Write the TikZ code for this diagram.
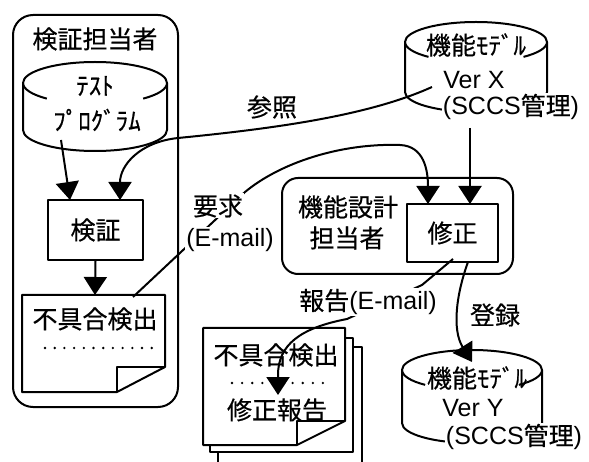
\documentclass[tikz,border=0pt]{standalone}
\usepackage{fontspec}
\setmainfont{Liberation Sans}
\newfontfamily\jp[FakeBold=0.5]{Noto Sans CJK JP}
\usetikzlibrary{arrows.meta}
\newcommand{\mycyl}[6]{%
  \draw[ln] ({#1-#4},{-#2}) arc[start angle=180,end angle=0,x radius=#4,y radius=#5]
    -- ({#1+#4},{-#3}) arc[start angle=0,end angle=-180,x radius=#4,y radius=#5] -- cycle;
  \draw[ln] ({#1-#4},{-#2}) arc[start angle=180,end angle=#6,x radius=#4,y radius=#5];
  \draw[ln] ({#1+#4},{-#2}) arc[start angle=0,end angle={180-#6},x radius=#4,y radius=#5];
}
\begin{document}
\begin{tikzpicture}[x=1pt,y=1pt,
  ln/.style={line width=2pt, line join=round},
  arr/.style={ln, -{Triangle[length=18pt,width=23pt]}},
  lbl/.style={font=\fontsize{25}{30}\selectfont, inner sep=1pt},
  wlbl/.style={lbl, fill=white},
  box/.style={ln, draw, inner sep=0pt},
  every node/.style={lbl}]
\useasboundingbox (0,0) rectangle (589,-462);

% ---------- left group ----------
\node[box, rounded corners=20pt, minimum width=165pt, minimum height=392pt] (kgroup) at (95.5,-211) {};
\node (ktitle) at (95,-39) {\jp 検証担当者};
\mycyl{95}{83}{130}{72}{21}{228}
\node (tp1) at (95,-86) {\jp ﾃｽﾄ};
\node (tp2) at (97,-120) {\jp ﾌﾟﾛｸﾞﾗﾑ};
\coordinate (cylL) at (61,-140);

\node[box, minimum width=95pt, minimum height=60pt] (kensho) at (95.5,-230) {\jp 検証};

% left document
\draw[ln, fill=white] (22,-295) -- (165,-295) -- (165,-367) -- (117,-392) -- (22,-392) -- cycle;
\draw[ln] (117,-392) -- (117,-367) -- (165,-367);
\node (doc1t) at (95,-319) {\jp 不具合検出};
\foreach \i in {0,...,11} \fill (45+\i*9.7,-348) circle (1.3pt);
\coordinate (doc1top) at (95,-295);
\coordinate (req0) at (133,-297);

% ---------- Ver X ----------
\mycyl{476}{42}{92}{71}{20}{228}
\node (vx1) at (476,-45) {\jp 機能ﾓﾃﾞﾙ};
\node (vx2) at (474,-80) {Ver X};
\node[wlbl] (vx3) at (511,-107) {(SCCS{\jp 管理})};
\coordinate (refS) at (432,-87);
\coordinate (vxOut) at (470,-128);

% ---------- design group ----------
\node[box, rounded corners=16pt, minimum width=231pt, minimum height=96pt] (sgroup) at (397.5,-226) {};
\node (s1) at (348,-207) {\jp 機能設計};
\node (s2) at (347,-238) {\jp 担当者};
\node[box, fill=white, minimum width=91pt, minimum height=58pt] (shusei) at (452.5,-233) {\jp 修正};

% ---------- document stack ----------
\begin{scope}
\clip (0,0) rectangle (589,-462);
\draw[ln, fill=white] (218,-347) rectangle (362,-480);
\draw[ln, fill=white] (210,-338) rectangle (353,-452);
\draw[ln, fill=white] (203,-328) -- (345,-328) -- (345,-421) -- (297,-445) -- (203,-445) -- cycle;
\draw[ln] (297,-445) -- (297,-421) -- (345,-421);
\end{scope}
\node (d2a) at (276,-355) {\jp 不具合検出};
\foreach \i in {0,...,9} \fill (232+\i*10.1,-383) circle (1.3pt);
\node (d2b) at (277,-410) {\jp 修正報告};
\coordinate (rep1) at (278,-395);

% ---------- Ver Y ----------
\mycyl{472}{370}{423}{70}{20}{228}
\node (vy1) at (477,-378) {\jp 機能ﾓﾃﾞﾙ};
\node (vy2) at (473,-408) {Ver Y};
\node[wlbl] (vy3) at (514,-437) {(SCCS{\jp 管理})};
\coordinate (vyIn) at (472,-362);

% ---------- connectors ----------
\coordinate (kIn1) at (70,-200);
\coordinate (kIn2) at (120,-200);
\draw[arr] (cylL) -- (kIn1);
\draw[arr] (refS) .. controls (370,-115) and (280,-128) .. (178,-138)
  .. controls (140,-142) and (120,-165) .. (kIn2);
\draw[arr] (kensho.south) -- (doc1top);

\coordinate (req1) at (245,-192);
\coordinate (sIn1) at (428,-204);
\coordinate (sIn2) at (470,-204);
\draw[arr] (req0) -- (req1) .. controls (280,-163) and (340,-143) .. (400,-145)
  .. controls (424,-146) and (428,-170) .. (sIn1);
\draw[arr] (vxOut) -- (sIn2);

\coordinate (rep0) at (453,-259);
\draw[arr] (rep0) -- (422,-285) -- (347,-319) .. controls (300,-328) and (278,-345) .. (278,-375) -- (rep1);
\coordinate (regS) at (468,-262);
\draw[arr] (regS) .. controls (456,-295) and (452,-330) .. (vyIn);

% ---------- labels ----------
\node (lref) at (272,-107) {\jp 参照};
\node[wlbl] (lreq1) at (218,-206) {\jp 要求};
\node[wlbl] (lreq2) at (230,-240) {(E-mail)};
\node[wlbl] (lrep) at (368,-302) {{\jp 報告}(E-mail)};
\node (lreg) at (495,-315) {\jp 登録};
\end{tikzpicture}
\end{document}
